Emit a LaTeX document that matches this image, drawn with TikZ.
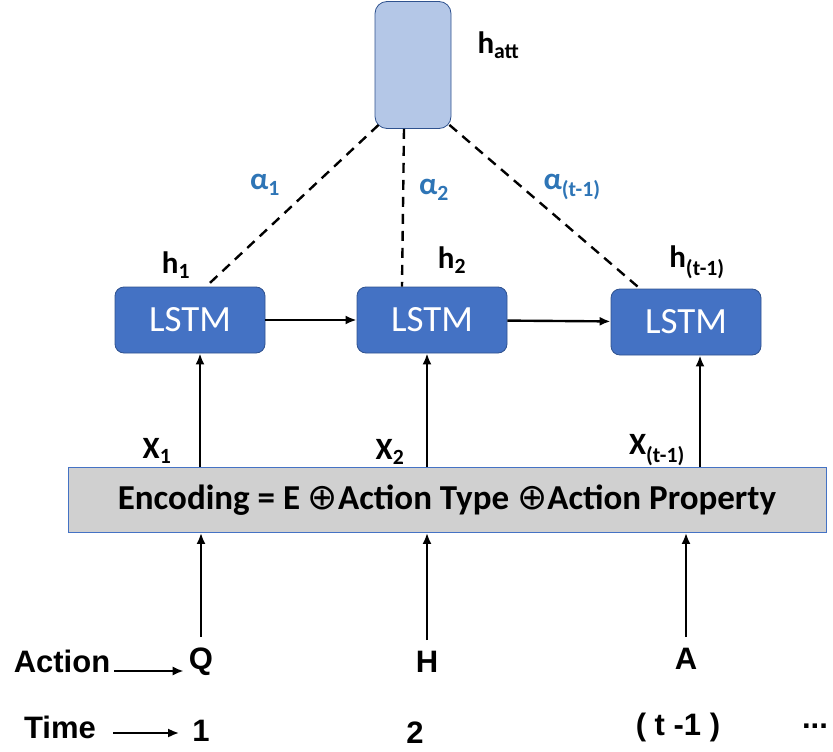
\documentclass[tikz,border=0pt]{standalone}
\usepackage{fontspec}
\setmainfont{Carlito}
\newfontfamily\arialfont{Liberation Sans}
\newfontfamily\dejavufont{DejaVu Sans}
\usetikzlibrary{arrows.meta}
\definecolor{lstmblue}{HTML}{4472C4}
\definecolor{lstmedge}{HTML}{2F528F}
\definecolor{attblue}{HTML}{B4C7E7}
\definecolor{encgray}{HTML}{D0D0D0}
\definecolor{alphablue}{HTML}{2E75B6}

\begin{document}
\begin{tikzpicture}[x=1pt,y=-1pt,
    lstm/.style={draw=lstmedge,fill=lstmblue,rounded corners=9pt,line width=0.8pt,
      minimum width=150pt,minimum height=66pt,text=white,font=\fontsize{37}{37}\selectfont},
    lbl/.style={font=\fontsize{31}{31}\selectfont\bfseries},
    alab/.style={font=\fontsize{31}{31}\selectfont\bfseries,text=alphablue},
    inp/.style={font=\fontsize{31}{31}\selectfont\arialfont\bfseries,inner sep=1pt},
    arr/.style={-{Latex[length=11pt,width=9pt]},line width=2.4pt},
    att/.style={dashed,dash pattern=on 10pt off 7pt,line width=2.4pt}]
    \useasboundingbox (0,0) rectangle (833,752);
    % attention state
    \node[draw=lstmedge,fill=attblue,rounded corners=12pt,line width=0.8pt,
      minimum width=76pt,minimum height=127pt] (hatt) at (413,65) {};
    \node[lbl,anchor=west] at (474,45) {h\textsubscript{att}};
    % LSTM cells
    \node[lstm] (c1) at (190,320) {LSTM};
    \node[lstm] (c2) at (432,320) {LSTM};
    \node[lstm] (c3) at (686,322) {LSTM};
    \draw[arr] (c1) -- (c2);
    \draw[arr] (c2) -- (c3);
    \node[lbl] at (176,265) {h\textsubscript{1}};
    \node[lbl] at (452,260) {h\textsubscript{2}};
    \node[lbl] at (697,262) {h\textsubscript{(t-1)}};
    % attention weights
    \draw[att] ([xshift=4pt,yshift=4pt]hatt.south west) -- ([xshift=16pt]c1.north);
    \draw[att] ([xshift=-9pt]hatt.south) -- ([xshift=-30pt]c2.north);
    \draw[att] ([xshift=-2pt,yshift=4pt]hatt.south east) -- ([xshift=-46pt]c3.north);
    \node[alab] at (265,185) {α\textsubscript{1}};
    \node[alab] at (434,190) {α\textsubscript{2}};
    \node[alab] at (572,187) {α\textsubscript{(t-1)}};
    % encoding layer
    \node[draw=lstmblue,fill=encgray,line width=0.8pt,minimum width=758pt,minimum height=65pt,
      font=\fontsize{35}{35}\selectfont\bfseries] (enc) at (447,500)
      {Encoding = E {\dejavufont\mdseries\fontsize{36}{36}\selectfont ⊕}Action Type
       {\dejavufont\mdseries\fontsize{36}{36}\selectfont ⊕}Action Property};
    \draw[arr] (enc.north -| 200,0) -- (c1.south -| 200,0);
    \draw[arr] (enc.north -| 427,0) -- (c2.south -| 427,0);
    \draw[arr] (enc.north -| 700,0) -- (c3.south -| 700,0);
    \node[lbl] at (157,451) {X\textsubscript{1}};
    \node[lbl] at (390,452) {X\textsubscript{2}};
    \node[lbl] at (657,450) {X\textsubscript{(t-1)}};
    % actions and time steps
    \node[inp] (q) at (201,662) {Q};
    \node[inp] (hh) at (427,662) {H};
    \node[inp] (a) at (686,659) {A};
    \draw[arr] ([yshift=10pt]q.north) -- (q.north |- enc.south);
    \draw[arr] ([yshift=10pt]hh.north) -- (hh.north |- enc.south);
    \draw[arr] ([yshift=10pt]a.north) -- (a.north |- enc.south);
    \node[inp] (act) at (62,661) {Action};
    \draw[arr] ([xshift=3pt,yshift=-10pt]act.east) -- ([xshift=-4pt,yshift=-10pt]act.east -| q.west);
    \node[inp] (tm) at (60,727) {Time};
    \node[inp] (t1) at (201,731) {1};
    \node[inp] at (415,733) {2};
    \node[inp] at (678,727) {( t -1 )};
    \node[inp] at (815,726) {...};
    \draw[arr] ([xshift=16pt,yshift=-6pt]tm.east) -- ([xshift=-12pt,yshift=-6pt]tm.east -| t1.west);
\end{tikzpicture}
\end{document}
